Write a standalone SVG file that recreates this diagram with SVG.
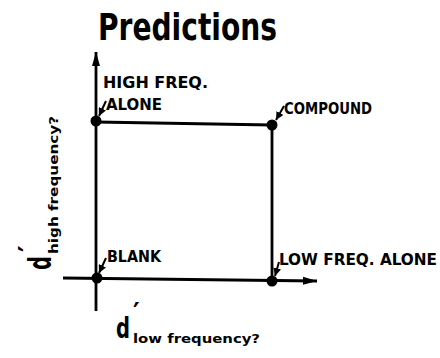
<svg xmlns="http://www.w3.org/2000/svg" width="440" height="358" viewBox="0 0 440 358">
<defs>
<style>
.t{font-family:"DejaVu Sans Condensed","DejaVu Sans",sans-serif;font-weight:bold;font-stretch:condensed;fill:#000}
.ax{stroke:#000;stroke-width:2.8;fill:none}
.ld{stroke:#000;stroke-width:2;fill:none}
</style>
<marker id="big" markerUnits="userSpaceOnUse" markerWidth="16" markerHeight="10" refX="14" refY="5" orient="auto"><path d="M0,1 L14,5 L0,9 z" fill="#000"/></marker>
<marker id="sm" markerUnits="userSpaceOnUse" markerWidth="9" markerHeight="8" refX="8" refY="4" orient="auto"><path d="M0,0 L8,4 L0,8 z" fill="#000"/></marker>
</defs>
<rect width="440" height="358" fill="#fff"/>
<text id="title" class="t" x="98" y="40" font-size="38" textLength="179" lengthAdjust="spacingAndGlyphs">Predictions</text>
<g id="connectors">
<line class="ax" x1="96" y1="311" x2="96" y2="52" marker-end="url(#big)"/>
<line class="ax" x1="63" y1="278" x2="317" y2="281" marker-end="url(#big)"/>
<line class="ax" x1="96" y1="122" x2="272" y2="125"/>
<line class="ax" x1="272" y1="125" x2="272" y2="281"/>
<line class="ld" x1="106" y1="101" x2="99" y2="116" marker-end="url(#sm)"/>
<line class="ld" x1="284" y1="106" x2="276" y2="120" marker-end="url(#sm)"/>
<line class="ld" x1="106" y1="258" x2="99" y2="273" marker-end="url(#sm)"/>
<line class="ld" x1="279" y1="262" x2="275" y2="276" marker-end="url(#sm)"/>
</g>
<g id="high-freq-alone">
<circle cx="96" cy="121" r="5.5"/>
<text class="t" x="103" y="88" font-size="15" textLength="105" lengthAdjust="spacingAndGlyphs">HIGH FREQ.</text>
<text class="t" x="106" y="110" font-size="15" textLength="56" lengthAdjust="spacingAndGlyphs">ALONE</text>
</g>
<g id="compound">
<circle cx="272" cy="125" r="5.5"/>
<text class="t" x="284" y="114" font-size="15" textLength="88" lengthAdjust="spacingAndGlyphs">COMPOUND</text>
</g>
<g id="blank">
<circle cx="97" cy="278" r="5.5"/>
<text class="t" x="107" y="262" font-size="15" textLength="54" lengthAdjust="spacingAndGlyphs">BLANK</text>
</g>
<g id="low-freq-alone">
<circle cx="272" cy="281" r="5.5"/>
<text class="t" x="279" y="265" font-size="15" textLength="158" lengthAdjust="spacingAndGlyphs">LOW FREQ. ALONE</text>
</g>
<g id="x-label">
<text class="t" x="116" y="338" font-size="28" textLength="14" lengthAdjust="spacingAndGlyphs">d</text>
<text class="t" x="133" y="323" font-size="28">′</text>
<text class="t" x="133" y="343" font-size="13" textLength="127" lengthAdjust="spacingAndGlyphs">low frequency?</text>
</g>
<g id="y-label">
<text class="t" transform="translate(51,270) rotate(-90)" x="0" y="0" font-size="32" textLength="14" lengthAdjust="spacingAndGlyphs">d</text>
<text class="t" transform="translate(51,270) rotate(-90)" x="18" y="-12" font-size="28">′</text>
<text class="t" transform="translate(51,270) rotate(-90)" x="16" y="7" font-size="13" textLength="138" lengthAdjust="spacingAndGlyphs">high frequency?</text>
</g>
</svg>
